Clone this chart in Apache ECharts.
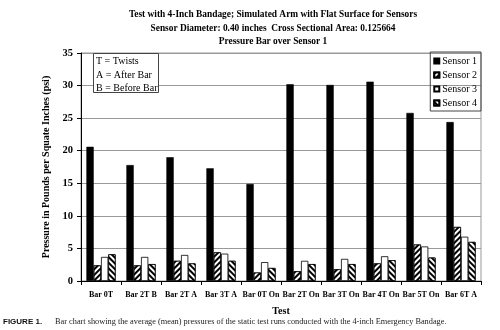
<!DOCTYPE html>
<html>
<head>
<meta charset="utf-8">
<script src="https://cdn.jsdelivr.net/npm/echarts@6/dist/echarts.min.js"></script>
<style>html,body{margin:0;padding:0;background:#fff;}#c{width:500px;height:330px;}</style>
</head>
<body>
<div id="c"></div>
<script>
const categories = ['Bar 0T','Bar 2T B','Bar 2T A','Bar 3T A','Bar 0T On','Bar 2T On','Bar 3T On','Bar 4T On','Bar 5T On','Bar 6T A'];
const sensor1 = [20.6,17.8,19.0,17.3,14.9,30.2,30.1,30.6,25.8,24.4];
const sensor2 = [2.4,2.4,3.1,4.4,1.3,1.5,1.8,2.7,5.6,8.3];
const sensor3 = [3.7,3.7,4.0,4.2,2.9,3.1,3.4,3.8,5.3,6.8];
const sensor4 = [4.1,2.6,2.7,3.1,2.0,2.6,2.6,3.2,3.6,6.0];
const seriesNames = ['Sensor 1','Sensor 2','Sensor 3','Sensor 4'];
const yMin = 0, yMax = 35, yStep = 5;

const serif = '"Liberation Serif","Times New Roman",serif';
const chart = echarts.init(document.getElementById('c'), null, {renderer:'canvas'});
const hatch = (rot) => ({symbol:'rect', symbolSize:1, dashArrayX:[1,0], dashArrayY:[1.4,1.8], rotation:rot, color:'#000', backgroundColor:'#fff'});
const makeSeries = (name, data, style) => ({
  name, type:'bar', data, barGap:'0%', barCategoryGap:'27%',
  itemStyle: style, emphasis:{disabled:true}, animation:false
});
chart.setOption({
  animation:false,
  backgroundColor:'#fff',
  title:{
    text:'Test with 4-Inch Bandage; Simulated Arm with Flat Surface for Sensors\nSensor Diameter: 0.40 inches  Cross Sectional Area: 0.125664\nPressure Bar over Sensor 1',
    left:268, top:3, textAlign:'center',
    textStyle:{fontFamily:serif, fontWeight:'bold', fontSize:9.4, lineHeight:13.5, color:'#000'}
  },
  legend:{
    data:seriesNames, orient:'vertical', right:19, top:52,
    itemWidth:5, itemHeight:5, itemGap:4, icon:'rect',
    borderColor:'#444', borderWidth:1, padding:[4,4,3,3],
    textStyle:{fontFamily:serif, fontSize:10, color:'#000', padding:[0,0,0,-2]}
  },
  grid:{left:81, right:19, top:53, bottom:49, show:true, borderColor:'#999', borderWidth:1},
  xAxis:{
    type:'category', data:categories,
    name:'Test', nameLocation:'middle', nameGap:25,
    nameTextStyle:{fontFamily:serif, fontWeight:'bold', fontSize:10, color:'#000'},
    axisLine:{lineStyle:{color:'#000', width:1}},
    axisTick:{show:true, length:4, lineStyle:{color:'#000'}},
    axisLabel:{fontFamily:serif, fontWeight:'bold', fontSize:8, color:'#000', margin:10, interval:0}
  },
  yAxis:{
    type:'value', min:yMin, max:yMax, interval:yStep,
    name:'Pressure in Pounds per Squate Inches (psi)', nameLocation:'middle', nameGap:24,
    nameTextStyle:{fontFamily:serif, fontWeight:'bold', fontSize:10, color:'#000'},
    axisLine:{show:true, lineStyle:{color:'#000', width:1}},
    axisTick:{show:true, length:4, lineStyle:{color:'#000'}},
    axisLabel:{fontFamily:serif, fontWeight:'bold', fontSize:10.5, color:'#000', margin:8},
    splitLine:{lineStyle:{color:'#999', width:1}}
  },
  series:[
    makeSeries(seriesNames[0], sensor1, {color:'#000', borderColor:'#000', borderWidth:0.6}),
    makeSeries(seriesNames[1], sensor2, {color:'#fff', borderColor:'#000', borderWidth:0.8, decal:hatch(-Math.PI/4)}),
    makeSeries(seriesNames[2], sensor3, {color:'#fff', borderColor:'#000', borderWidth:0.8}),
    makeSeries(seriesNames[3], sensor4, {color:'#fff', borderColor:'#000', borderWidth:0.8, decal:hatch(Math.PI/4)})
  ],
  graphic:[
    {type:'rect', left:93, top:53, shape:{width:65, height:39}, style:{fill:'#fff', stroke:'#444', lineWidth:1}, z:100},
    {type:'text', left:96, top:55, z:101, style:{text:'T = Twists\nA = After Bar\nB = Before Bar', width:59, align:'center', font:'10px ' + serif, lineHeight:13.3, fill:'#000'}},
    {type:'text', left:3, top:318, style:{text:'FIGURE 1.', font:'bold 8px "Liberation Sans",Arial,sans-serif', fill:'#111'}},
    {type:'text', left:55, top:318, style:{text:'Bar chart showing the average (mean) pressures of the static test runs conducted with the 4-inch Emergency Bandage.', font:'8.3px ' + serif, fill:'#222'}}
  ]
});
</script>
</body>
</html>
